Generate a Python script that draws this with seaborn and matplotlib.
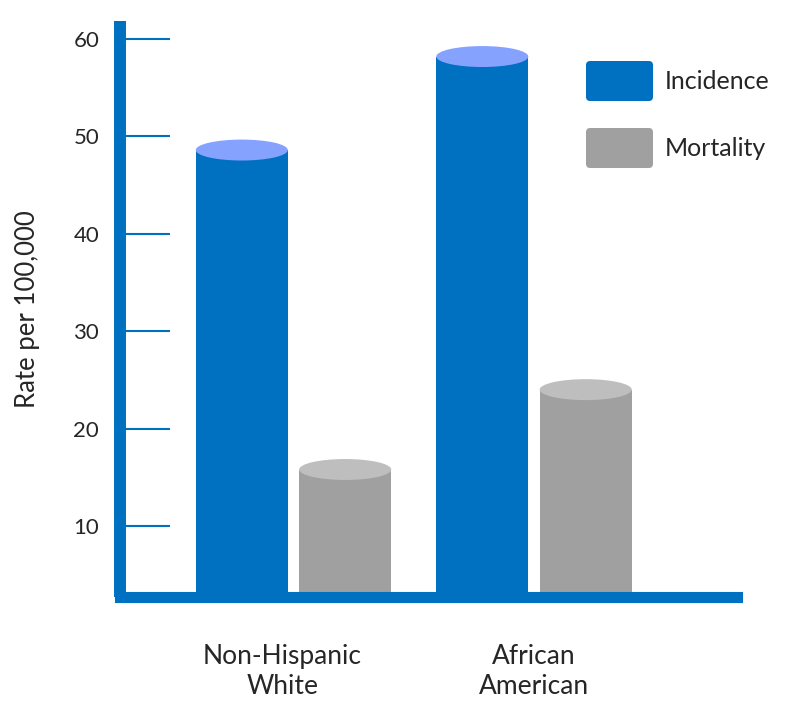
import matplotlib
matplotlib.use("Agg")
import matplotlib.pyplot as plt
import matplotlib.transforms as mtransforms
import pandas as pd
import seaborn as sns
from matplotlib.legend_handler import HandlerPatch
from matplotlib.patches import Ellipse, FancyBboxPatch, Patch

# data
groups = ["Non-Hispanic\nWhite", "African\nAmerican"]
measures = ["Incidence", "Mortality"]
incidence = [48.6, 58.2]
mortality = [15.8, 24.0]
yticks = [10, 20, 30, 40, 50, 60]

body_colors = {"Incidence": "#0070C0", "Mortality": "#A0A0A0"}
top_colors = {"Incidence": "#85A2FF", "Mortality": "#BEBEBE"}
axis_blue = "#0070C0"

df = pd.DataFrame({
    "group": groups * 2,
    "measure": ["Incidence"] * len(groups) + ["Mortality"] * len(groups),
    "rate": incidence + mortality,
})

sns.set_style("white")
plt.rcParams["font.family"] = ["Lato", "DejaVu Sans"]


class RoundBox(HandlerPatch):
    # legend swatches with slightly rounded corners
    def create_artists(self, legend, orig_handle, xdescent, ydescent,
                       width, height, fontsize, trans):
        p = FancyBboxPatch((-xdescent, -ydescent), width, height,
                           boxstyle="round,pad=0,rounding_size=3",
                           facecolor=orig_handle.get_facecolor(),
                           edgecolor="none", transform=trans)
        return [p]


fig = plt.figure(figsize=(7.92, 7.04), dpi=100)
ax = fig.add_axes([120 / 792, 107 / 704, 616.5 / 792, 576 / 704])

sns.barplot(data=df, x="group", y="rate", hue="measure", order=groups,
            hue_order=measures, palette=body_colors, width=0.86, gap=0.11,
            saturation=1, linewidth=0, legend=False, ax=ax)

# cylinder tops
for measure, cont in zip(measures, ax.containers):
    for bar in cont:
        x, w, h = bar.get_x(), bar.get_width(), bar.get_height()
        ax.add_patch(Ellipse((x + w / 2, h), w, 2.15,
                             facecolor=top_colors[measure], edgecolor="none",
                             zorder=3))

ax.set_xlim(-0.7214, 1.842)
ax.set_ylim(2.71, 61.85)

sns.despine(ax=ax)
ax.spines["left"].set_linewidth(8.6)
ax.spines["left"].set_color(axis_blue)
ax.spines["left"].set_capstyle("butt")
ax.spines["bottom"].set_linewidth(8)
ax.spines["bottom"].set_color(axis_blue)

ax.set_yticks(yticks)
ax.tick_params(axis="y", left=True, direction="in", length=36, width=1.5,
               color=axis_blue, pad=15, labelsize=16)
ax.tick_params(axis="x", length=0, pad=34, labelsize=19)
for lbl in ax.get_xticklabels():
    lbl.set_linespacing(1.25)
offset = mtransforms.ScaledTranslation(-11 / 100, 0, fig.dpi_scale_trans)
lbl0 = ax.get_xticklabels()[0]
lbl0.set_transform(lbl0.get_transform() + offset)

ax.set_xlabel("")
ax.set_ylabel("Rate per 100,000", fontsize=18.5)
ax.yaxis.set_label_coords(-0.13, 0.5)

handles = [Patch(facecolor=body_colors[m]) for m in measures]
ax.legend(handles, measures, loc="upper left",
          bbox_to_anchor=(586 / 792, 1 - 61 / 704),
          bbox_transform=fig.transFigure, frameon=False, fontsize=18,
          handlelength=2.68, handleheight=2.085, handletextpad=0.48,
          labelspacing=1.08, borderpad=0, borderaxespad=0,
          handler_map={Patch: RoundBox()})

fig.savefig("out.png", dpi=100)
